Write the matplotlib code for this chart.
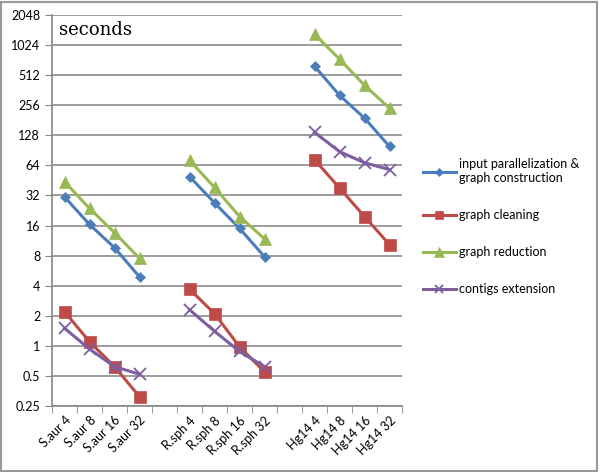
import numpy as np
import matplotlib.pyplot as plt
from matplotlib.patches import Rectangle

# categories, blank slots separate the three datasets
cats = ["S.aur 4", "S.aur 8", "S.aur 16", "S.aur 32", "",
        "R.sph 4", "R.sph 8", "R.sph 16", "R.sph 32", "",
        "Hg14 4", "Hg14 8", "Hg14 16", "Hg14 32"]

# seconds (nan = gap)
nan = np.nan
input_constr = [31, 16.4, 9.6, 4.9, nan, 49.5, 27, 15, 7.8, nan, 630, 322, 190, 99]
cleaning = [2.2, 1.1, 0.62, 0.31, nan, 3.7, 2.1, 0.98, 0.55, nan, 73, 38, 19.7, 10.3]
reduction = [44, 23.7, 13.6, 7.5, nan, 72, 38.5, 19.7, 11.8, nan, 1320, 740, 406, 239]
contigs = [1.5, 0.93, 0.62, 0.52, nan, 2.3, 1.4, 0.88, 0.62, nan, 137, 88, 68, 58]

yticks = [0.25, 0.5, 1, 2, 4, 8, 16, 32, 64, 128, 256, 512, 1024, 2048]
ylabels = ["0.25", "0.5", "1", "2", "4", "8", "16", "32", "64", "128", "256", "512", "1024", "2048"]

plt.rcParams['font.family'] = ['Lato', 'DejaVu Sans']

fig = plt.figure(figsize=(6, 4.75), dpi=100)
ax = fig.add_axes([52/600, 1 - 406/475, 350/600, 391/475])

x = np.arange(len(cats))
series = [
    (input_constr, "#4A7EBB", "D", 5.5, "input parallelization &\ngraph construction"),
    (cleaning, "#BE4B48", "s", 8, "graph cleaning"),
    (reduction, "#98B954", "^", 9, "graph reduction"),
    (contigs, "#7D5FA0", "x", 8, "contigs extension"),
]
for vals, col, mk, ms, lab in series:
    ax.plot(x, vals, color=col, lw=2.2, marker=mk, markersize=ms,
            markeredgewidth=1.3 if mk == "x" else 0.5, markeredgecolor=col,
            label=lab)

ax.set_yscale("log", base=2)
ax.set_ylim(0.25, 2048)
ax.set_yticks(yticks)
ax.set_yticklabels(ylabels)
ax.minorticks_off()
ax.set_xlim(-0.5, len(cats) - 0.5)
ax.set_xticks(x)
ax.set_xticklabels(cats, rotation=45, ha="right", rotation_mode="anchor")
ax.set_xticks(np.arange(-0.5, len(cats)), minor=True)
ax.tick_params(axis="x", which="major", length=0, pad=6, labelsize=9)
ax.tick_params(axis="x", which="minor", length=5, color="#888888")
ax.tick_params(axis="y", length=5, color="#888888", labelsize=9)

ax.grid(axis="y", color="#8C8C8C", lw=1.2)
ax.set_axisbelow(True)
for s in ["top", "right"]:
    ax.spines[s].set_visible(False)
for s in ["left", "bottom"]:
    ax.spines[s].set_color("#888888")
    ax.spines[s].set_linewidth(1.2)

ax.text(0.02, 0.985, "seconds", transform=ax.transAxes, ha="left", va="top",
        fontsize=13, family="DejaVu Serif")

fig.legend(loc="upper left", bbox_to_anchor=(418/600, 1 - 153/475),
           frameon=False, fontsize=9, handlelength=2.6, handletextpad=0.3,
           labelspacing=2.0, borderaxespad=0, markerscale=0.8)

fig.patches.append(Rectangle((1/600, 4/475), 596/600, 469/475, transform=fig.transFigure,
                             fill=False, edgecolor="#999999", lw=1.5))

fig.savefig("out.png", dpi=100)
